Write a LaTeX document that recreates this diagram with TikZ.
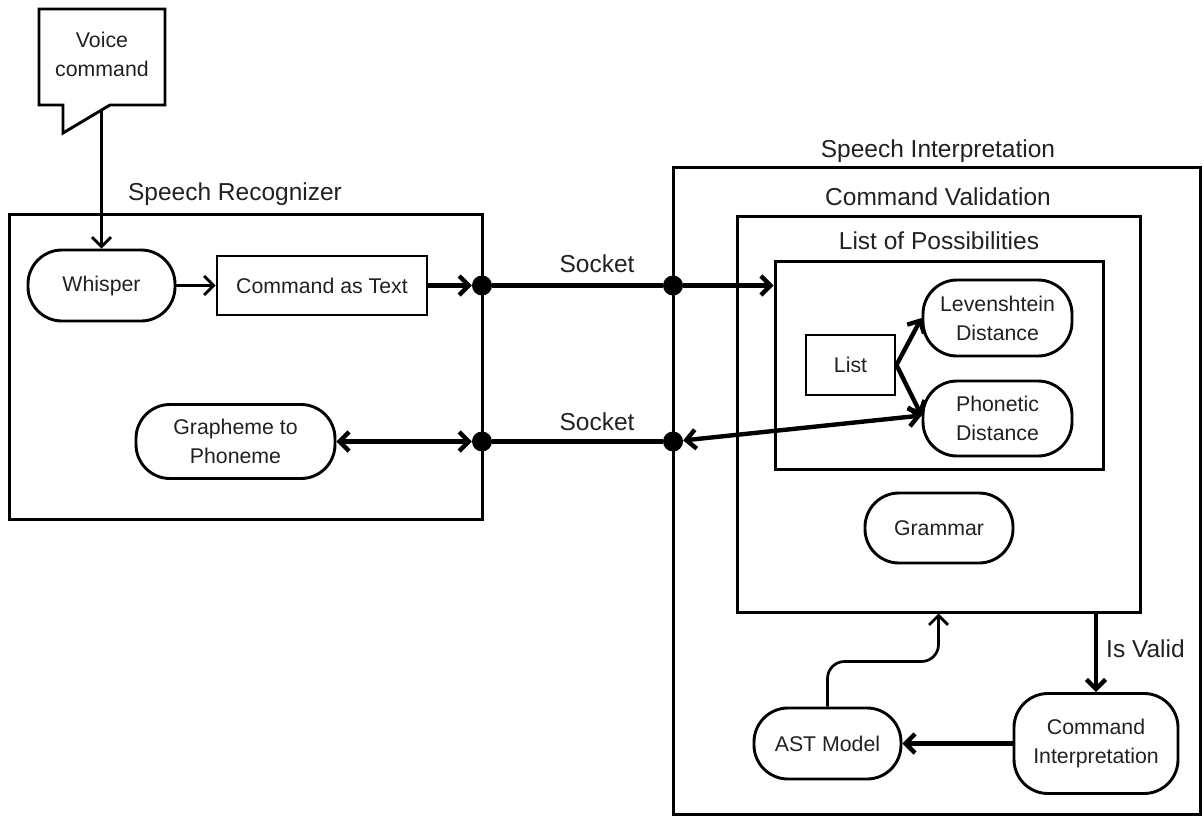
\documentclass[tikz,border=0pt]{standalone}
\usepackage{fontspec}
\setmainfont{Liberation Sans}
\usetikzlibrary{arrows.meta,calc}
\definecolor{txt}{gray}{0.13}
\tikzset{
  frame/.style={draw, line width=3pt, inner sep=0pt},
  title/.style={font=\fontsize{24.5}{29}\selectfont, text=txt, anchor=base, inner sep=0pt},
  rnode/.style={draw, line width=2.9pt, rounded corners=34pt, align=center, text=txt,
                font=\fontsize{21.3}{29}\selectfont, inner sep=0pt},
  rect/.style={draw, line width=2.9pt, align=center, text=txt,
               font=\fontsize{21.3}{29}\selectfont, inner sep=0pt},
  dot/.style={circle, fill=black, inner sep=0pt, minimum size=20pt},
  tip/.tip={Straight Barb[length=9.5pt,width=19pt]},
  arr/.style={line width=2.7pt, -tip},
  harr/.style={line width=4.4pt, -tip},
  hline/.style={line width=4.4pt},
  hboth/.style={line width=4.4pt, tip-tip},
}
\begin{document}
\begin{tikzpicture}[x=1pt,y=-1pt]
\useasboundingbox (0,0) rectangle (1204,816);

% containers
\node[frame, minimum width=473pt, minimum height=305pt] (sr) at (245.5,366.5) {};
\node[title] (srt) at (235,200) {Speech Recognizer};
\node[frame, minimum width=527pt, minimum height=647pt] (si) at (936.5,490.5) {};
\node[title] (sit) at (938,157) {Speech Interpretation};
\node[frame, minimum width=403pt, minimum height=396pt] (cv) at (938.5,414) {};
\node[title] (cvt) at (938,205) {Command Validation};
\node[frame, minimum width=328pt, minimum height=208pt] (lop) at (939,365) {};
\node[title] (lopt) at (939,249) {List of Possibilities};

% voice callout
\draw[line width=2.9pt, line join=miter] (39,9) -- (165,9) -- (165,105) -- (110,105) -- (63,133) -- (63,105) -- (39,105) -- cycle;
\node[align=center, text=txt, font=\fontsize{21.3}{29}\selectfont, inner sep=0pt] (voice) at (102,54) {Voice\\command};
\coordinate (vtail) at (101.5,110);

% speech recognizer nodes
\node[rnode, minimum width=147pt, minimum height=71pt] (whisper) at (101.5,285.5) {Whisper};
\node[rect, minimum width=210pt, minimum height=59pt] (cmd) at (322,285.5) {Command as Text};
\node[rnode, minimum width=199pt, minimum height=74pt] (g2p) at (235.5,441.5) {Grapheme to\\Phoneme};

% socket dots
\node[dot] (d1) at (482,285.5) {};
\node[dot] (d2) at (482,441.5) {};
\node[dot] (d3) at (673,285.5) {};
\node[dot] (d4) at (673,441.5) {};
\node[title] (s1) at (597,272) {Socket};
\node[title] (s2) at (597,430) {Socket};

% list of possibilities
\node[rect, minimum width=89pt, minimum height=60pt] (list) at (850.5,365) {List};
\node[rnode, minimum width=149pt, minimum height=76pt] (lev) at (997.5,318) {Levenshtein\\Distance};
\node[rnode, minimum width=149pt, minimum height=75pt] (phon) at (997.5,418.5) {Phonetic\\Distance};
\node[rnode, minimum width=148pt, minimum height=70pt] (gram) at (939,528) {Grammar};

% interpretation
\node[rnode, minimum width=164pt, minimum height=100pt] (ci) at (1096,743.5) {Command\\Interpretation};
\node[rnode, minimum width=147pt, minimum height=71pt] (ast) at (827.5,743.5) {AST Model};
\node[title, anchor=base west] (isvalid) at (1106,657) {Is Valid};

% connectors
\draw[arr] (vtail) -- (whisper.north);
\draw[arr] (whisper.east) -- (cmd.west);
\draw[harr] (cmd.east) -- (d1);
\draw[hline] (d1) -- (d3);
\draw[harr] (d3) -- (d3 -| lop.west);
\draw[hboth] (g2p.east) -- (d2);
\draw[hline] (d2) -- (d4);
\draw[hboth] (d4) -- ($(phon.west)+(0,-3)$);
\draw[harr] (list.east) -- (lev.west);
\draw[harr] (list.east) -- ($(phon.west)+(0,-3)$);
\draw[harr] (ci.north |- cv.south) -- (ci.north);
\draw[harr] (ci.west) -- (ast.east);
\draw[arr, rounded corners=17pt] (ast.north) |- ($(cv.south)+(0,48)$) -- (cv.south);
\end{tikzpicture}
\end{document}
